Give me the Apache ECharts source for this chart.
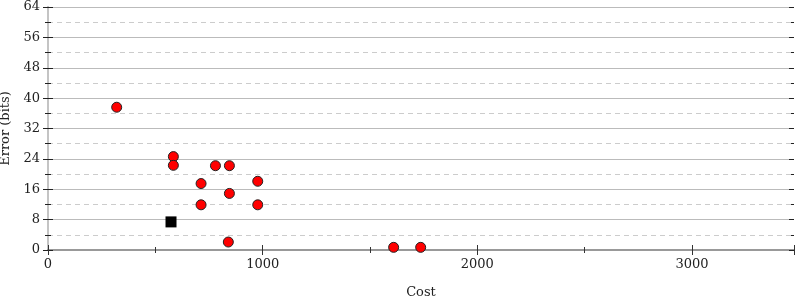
<!DOCTYPE html>
<html><head><meta charset="utf-8">
<script src="https://cdn.jsdelivr.net/npm/echarts@6/dist/echarts.min.js"></script>
<style>html,body{margin:0;padding:0;background:#fff}#c{width:800px;height:300px}</style>
</head><body><div id="c"></div>
<script>
const circleCost  = [320, 584, 584, 780, 845, 713, 977, 845, 713, 977, 840, 1610, 1736];
const circleError = [37.6, 24.6, 22.3, 22.2, 22.2, 17.5, 18.1, 14.9, 11.9, 11.9, 2.1, 0.7, 0.7];
const squareCost  = [573];
const squareError = [7.4];
const xTicks = [0, 1000, 2000, 3000];
const yTicks = [0, 8, 16, 24, 32, 40, 48, 56, 64];
const xLabel = 'Cost';
const yLabel = 'Error (bits)';

const font = 'DejaVu Serif';
const chart = echarts.init(document.getElementById('c'), null, {renderer: 'canvas'});
const yBase = {
  type: 'value', min: 0, max: 64, interval: 8,
  axisLabel: {show: false}, splitLine: {show: false}, minorSplitLine: {show: false}
};
chart.setOption({
  animation: false,
  grid: {left: 48, right: 6, top: 7, bottom: 50, containLabel: false, outerBoundsMode: 'none'},
  xAxis: [{
    type: 'value', min: 0, max: 3475, interval: 1000,
    name: xLabel, nameLocation: 'middle', nameGap: 36,
    nameTextStyle: {fontFamily: font, fontSize: 13, color: '#222'},
    axisLine: {show: true, onZero: false, lineStyle: {color: '#999', width: 2}},
    axisTick: {show: true, inside: true, length: 5, lineStyle: {color: '#333'}},
    minorTick: {show: true, splitNumber: 2, length: 3, lineStyle: {color: '#333'}},
    axisLabel: {fontFamily: font, fontSize: 13, color: '#222', margin: 8, showMaxLabel: false,
      formatter: v => xTicks.includes(v) ? String(v) : ''},
    splitLine: {show: false}
  }, {
    type: 'value', min: 0, max: 3475, interval: 1000, position: 'bottom',
    axisLine: {show: false}, axisLabel: {show: false},
    axisTick: {show: true, inside: false, length: 5, lineStyle: {color: '#333'}},
    minorTick: {show: true, splitNumber: 2, length: 3, lineStyle: {color: '#333'}},
    splitLine: {show: false}
  }, {
    type: 'value', min: 0, max: 3475, position: 'top',
    axisLine: {show: true, lineStyle: {color: '#999', width: 2}},
    axisTick: {show: false}, axisLabel: {show: false}, splitLine: {show: false}
  }],
  yAxis: [Object.assign({}, yBase, {
    position: 'left',
    name: yLabel, nameLocation: 'middle', nameGap: 35, nameRotate: 90,
    nameTextStyle: {fontFamily: font, fontSize: 13, color: '#222'},
    axisLine: {show: true, lineStyle: {color: '#c4c4c4', width: 2}},
    axisTick: {show: true, length: 5, lineStyle: {color: '#222'}},
    minorTick: {show: true, splitNumber: 2, length: 3, lineStyle: {color: '#222'}},
    axisLabel: {show: true, fontFamily: font, fontSize: 13, color: '#222', margin: 8,
      formatter: v => yTicks.includes(v) ? String(v) : ''},
    splitLine: {show: true, lineStyle: {color: '#bbb', width: 1}},
    minorSplitLine: {show: true, lineStyle: {color: '#ccc', width: 1, type: [5, 4]}}
  }), Object.assign({}, yBase, {
    position: 'left', axisLine: {show: false},
    axisTick: {show: true, inside: true, length: 5, lineStyle: {color: '#222'}},
    minorTick: {show: true, splitNumber: 2, length: 3, lineStyle: {color: '#222'}}
  }), Object.assign({}, yBase, {
    position: 'right',
    axisLine: {show: true, lineStyle: {color: '#c4c4c4', width: 2}},
    axisTick: {show: true, length: 5, lineStyle: {color: '#222'}},
    minorTick: {show: true, splitNumber: 2, length: 3, lineStyle: {color: '#222'}}
  }), Object.assign({}, yBase, {
    position: 'right', axisLine: {show: false},
    axisTick: {show: true, inside: true, length: 5, lineStyle: {color: '#222'}},
    minorTick: {show: true, splitNumber: 2, length: 3, lineStyle: {color: '#222'}}
  })],
  series: [{
    type: 'scatter', xAxisIndex: 0, yAxisIndex: 0,
    data: circleCost.map((c, i) => [c, circleError[i]]),
    symbol: 'circle', symbolSize: 10,
    itemStyle: {color: '#ff0000', borderColor: '#222', borderWidth: 1, opacity: 1}
  }, {
    type: 'scatter', xAxisIndex: 0, yAxisIndex: 0,
    data: squareCost.map((c, i) => [c, squareError[i]]),
    symbol: 'rect', symbolSize: 11,
    itemStyle: {color: '#000', opacity: 1}
  }]
});
</script></body></html>
